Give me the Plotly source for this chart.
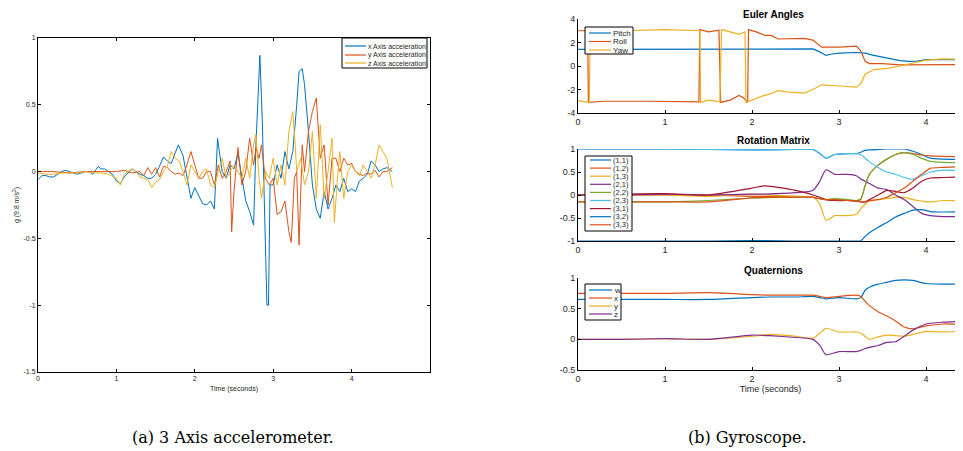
import plotly.graph_objects as go

# ---------------- Accelerometer data ----------------
t_ax = [0,0.05,0.1,0.15,0.2,0.25,0.3,0.35,0.4,0.45,0.5,0.55,0.6,0.65,0.7,0.77,0.8,0.85,0.9,0.95,
        1.0,1.05,1.1,1.15,1.2,1.25,1.3,1.35,1.4,1.45,1.5,1.55,1.6,1.65,1.7,1.75,1.79,1.85,1.9,1.95,
        2.0,2.05,2.1,2.15,2.2,2.25,2.29,2.32,2.35,2.4,2.45,2.5,2.55,2.6,2.65,2.7,2.75,2.78,2.83,2.86,
        2.89,2.92,2.94,2.96,3.0,3.05,3.1,3.15,3.2,3.25,3.3,3.33,3.37,3.4,3.45,3.5,3.55,3.6,3.65,3.7,
        3.75,3.8,3.85,3.9,3.95,4.0,4.05,4.1,4.15,4.2,4.25,4.3,4.35,4.4,4.45,4.52]
acc_x = [-0.06,-0.03,-0.03,-0.04,-0.04,-0.02,0.0,0.01,0.0,-0.01,-0.02,-0.01,0.0,0.0,-0.02,0.04,0.02,0.02,0.0,-0.02,
         -0.07,-0.09,-0.04,-0.01,0.02,0.0,-0.02,-0.03,-0.05,-0.05,-0.02,0.04,0.11,0.08,0.06,0.14,0.2,0.12,-0.05,-0.2,
         -0.12,-0.18,-0.24,-0.25,-0.22,-0.28,0.25,0.12,0.0,-0.05,0.05,0.02,0.14,-0.04,-0.22,-0.3,-0.4,0.2,0.87,0.4,
         -0.25,-1.0,-1.0,-0.1,-0.1,0.05,-0.05,0.15,0.02,0.15,0.5,0.75,0.77,0.65,0.3,-0.1,-0.28,-0.35,-0.15,-0.28,
         -0.2,-0.1,-0.15,-0.05,-0.15,-0.13,-0.15,-0.07,-0.05,-0.02,0.08,0.05,0.0,0.02,0.03,0.0]

t_ay = [0,0.2,0.4,0.6,0.8,1.0,1.1,1.2,1.3,1.35,1.4,1.45,1.5,1.55,1.6,1.65,1.7,1.75,1.8,1.85,
        1.9,1.95,2.0,2.05,2.1,2.15,2.2,2.25,2.3,2.35,2.4,2.45,2.47,2.5,2.55,2.6,2.65,2.7,2.75,2.78,
        2.82,2.85,2.9,2.95,3.0,3.05,3.1,3.15,3.2,3.23,3.27,3.3,3.33,3.37,3.4,3.45,3.5,3.55,3.6,3.65,
        3.7,3.75,3.8,3.85,3.9,3.95,4.0,4.05,4.1,4.15,4.2,4.25,4.3,4.35,4.4,4.45,4.52]
acc_y = [0.0,0.0,-0.01,0.0,0.0, 0.0,0.01,-0.01,0.0,-0.03, 0.03,-0.02,0.03,-0.04,0.04, 0.03,0.0,-0.02,-0.01,-0.03,
         0.05,0.15,0.05,-0.05,-0.05, 0.0,0.0,-0.1,0.05,-0.05, 0.0,0.08,-0.45,-0.15,0.18, -0.1,0.0,0.25,0.05,0.18,
         0.1,0.2,-0.05,-0.1,-0.05, -0.32,-0.3,-0.22,-0.45,-0.53, -0.05,0.0,-0.55,0.2,0.0, 0.3,0.45,0.55,0.1,0.2,
         -0.25,0.1,0.1,0.0,0.1, 0.05,0.06,0.0,-0.02,-0.03, -0.01,-0.02,0.01,-0.04,0.0, 0.0,0.03]

t_az = [0,0.1,0.2,0.3,0.4,0.5,0.6,0.7,0.8,0.9,1.0,1.05,1.1,1.2,1.25,1.3,1.35,1.4,1.45,1.5,
        1.55,1.6,1.65,1.7,1.75,1.8,1.85,1.9,1.95,2.0,2.05,2.1,2.15,2.2,2.25,2.3,2.35,2.4,2.45,2.5,
        2.55,2.6,2.65,2.7,2.75,2.78,2.82,2.85,2.9,2.95,3.0,3.05,3.1,3.15,3.2,3.25,3.28,3.3,3.35,3.4,
        3.45,3.5,3.55,3.6,3.65,3.7,3.75,3.78,3.82,3.85,3.9,3.95,4.0,4.05,4.1,4.15,4.2,4.25,4.3,4.35,
        4.4,4.45,4.52]
acc_z = [-0.01,-0.02,-0.02,-0.01,-0.01,-0.01,0.0,-0.01,-0.01,-0.02, -0.05,-0.1,-0.02,0.02,0.0,
         -0.04,-0.05,-0.06,-0.12,-0.08, -0.06,0.0,0.04,0.15,0.1, 0.08,0.0,-0.1,0.05,0.0,
         -0.05,0.0,0.02,-0.1,-0.12, 0.0,0.1,-0.05,0.0,0.05, 0.0,-0.05,0.1,-0.05,0.2,
         0.28,-0.05,-0.2,0.0,-0.05, 0.1,-0.1,0.05,-0.1,0.3, 0.45,0.2,0.0,0.1,-0.1,
         0.0,0.3,-0.2,0.35,-0.2, 0.0,0.25,-0.38,-0.05,0.15, -0.2,0.0,0.05,0.0,-0.03,
         0.05,0.0,-0.05,0.05,0.2, 0.15,0.1,-0.12]

acc_names = ["x Axis acceleration", "y Axis acceleration", "z Axis acceleration"]

# ---------------- Euler angles ----------------
t_pitch = [0,0.5,1.0,1.5,2.0,2.5,2.7,2.78,2.85,2.9,3.0,3.2,3.3,3.4,3.5,3.6,3.7,3.8,3.9,4.0,4.2,4.5]
pitch = [1.42,1.42,1.43,1.43,1.48,1.48,1.45,1.2,0.9,1.0,1.1,1.15,1.1,0.9,0.75,0.65,0.45,0.4,0.42,0.55,0.57,0.55]
t_roll = [0,0.11,0.12,0.3,0.8,1.2,1.39,1.40,1.5,1.62,1.64,1.75,1.85,1.9,1.95,1.96,2.05,2.15,2.22,2.3,
          2.5,2.6,2.7,2.8,3.0,3.2,3.25,3.3,3.35,3.5,3.7,4.0,4.2,4.5]
roll = [3.0,3.0,-3.1,-3.0,-3.0,-3.05,-3.05,3.1,2.9,3.05,-3.1,-2.9,-2.5,-2.7,-3.1,3.1,2.9,2.6,2.6,2.3,
        2.3,2.35,2.2,1.6,1.6,1.7,1.3,0.4,0.2,0.2,0.1,0.12,0.1,0.12]
t_yaw = [0,0.1,0.13,0.14,0.5,1.0,1.4,1.41,1.5,1.63,1.65,1.75,1.85,1.92,1.93,2.0,2.1,2.2,2.3,2.4,
         2.6,2.7,2.8,3.0,3.2,3.25,3.3,3.4,3.55,3.7,3.9,4.0,4.2,4.5]
yaw = [-2.95,-3.1,-3.1,3.0,3.0,3.1,3.0,-3.1,-2.9,-3.05,3.1,2.9,2.7,2.9,-3.1,-2.9,-2.6,-2.4,-2.1,-2.2,
       -2.3,-2.0,-1.6,-1.7,-1.8,-1.5,-0.7,-0.3,-0.2,0.0,0.3,0.5,0.6,0.55]
euler_names = ["Pitch", "Roll", "Yaw"]

# ---------------- Rotation matrix ----------------
t_rm = [0,0.5,1.0,1.5,2.0,2.15,2.5,2.7,2.78,2.85,2.95,3.1,3.2,3.25,3.3,3.35,3.45,3.55,3.65,3.75,3.85,3.95,4.05,4.2,4.5]
r11 = [1.0,1.0,1.0,0.99,0.98,0.98,0.99,0.99,0.9,0.8,0.88,0.9,0.9,0.93,0.97,0.98,0.99,1.0,1.0,1.0,0.95,0.88,0.8,0.78,0.77]
r12 = [0.0,0.0,0.0,0.0,-0.03,-0.03,-0.03,-0.05,-0.08,-0.1,-0.1,-0.12,-0.13,-0.1,0.2,0.45,0.65,0.78,0.88,0.92,0.9,0.87,0.85,0.84,0.83]
r13 = [0.0,0.0,0.0,-0.03,0.02,0.0,-0.03,-0.05,-0.2,-0.55,-0.45,-0.45,-0.42,-0.3,-0.2,-0.12,-0.1,-0.08,-0.05,-0.05,-0.1,-0.13,-0.15,-0.12,-0.13]
r21 = [0.0,0.0,0.02,0.0,0.02,0.02,0.05,0.1,0.3,0.55,0.45,0.45,0.42,0.35,0.3,0.25,0.15,0.12,0.0,-0.1,-0.25,-0.4,-0.45,-0.47,-0.47]
r22 = [-0.15,-0.15,-0.15,-0.12,-0.07,-0.06,-0.05,-0.05,-0.08,-0.1,-0.08,-0.1,-0.12,-0.08,0.2,0.45,0.65,0.78,0.88,0.92,0.88,0.8,0.73,0.71,0.7]
r23 = [1.0,1.0,1.0,0.99,0.98,0.98,0.99,0.99,0.9,0.8,0.88,0.9,0.9,0.88,0.8,0.72,0.6,0.5,0.45,0.38,0.34,0.42,0.5,0.54,0.52]
r31 = [0.0,0.02,0.03,0.0,0.15,0.2,0.1,0.0,-0.05,-0.1,-0.12,-0.12,-0.13,-0.15,-0.15,-0.1,0.0,0.1,0.08,0.05,0.15,0.3,0.37,0.38,0.4]
r32 = [-1.0,-1.0,-1.0,-1.0,-0.99,-0.99,-1.0,-1.0,-1.0,-1.0,-1.0,-1.0,-1.0,-1.0,-0.9,-0.82,-0.7,-0.6,-0.48,-0.4,-0.33,-0.32,-0.36,-0.37,-0.36]
r33 = [-0.15,-0.15,-0.15,-0.15,-0.06,-0.05,-0.05,-0.05,-0.08,-0.1,-0.1,-0.12,-0.13,-0.15,-0.15,-0.13,-0.1,-0.05,0.05,0.15,0.3,0.45,0.58,0.6,0.62]
rm_names = ["(1,1)","(1,2)","(1,3)","(2,1)","(2,2)","(2,3)","(3,1)","(3,2)","(3,3)"]

# ---------------- Quaternions ----------------
t_q = [0,0.5,1.0,1.5,2.0,2.2,2.5,2.7,2.78,2.85,3.0,3.2,3.25,3.3,3.35,3.45,3.55,3.65,3.75,3.85,4.0,4.2,4.5]
qw = [0.65,0.65,0.65,0.65,0.68,0.69,0.69,0.7,0.68,0.66,0.68,0.66,0.68,0.8,0.85,0.9,0.93,0.96,0.97,0.96,0.91,0.9,0.9]
qx = [0.75,0.75,0.75,0.76,0.73,0.72,0.72,0.72,0.7,0.68,0.7,0.72,0.7,0.62,0.55,0.45,0.38,0.3,0.2,0.17,0.22,0.25,0.24]
qy = [0.0,0.0,0.01,0.0,0.05,0.08,0.05,0.02,0.1,0.18,0.12,0.12,0.1,0.05,0.0,0.04,0.07,0.06,0.05,0.08,0.13,0.12,0.14]
qz = [0.0,0.0,0.01,0.0,0.07,0.06,0.03,0.0,-0.1,-0.25,-0.2,-0.2,-0.18,-0.15,-0.13,-0.1,-0.05,-0.04,0.05,0.15,0.25,0.28,0.3]
q_names = ["w","x","y","z"]

C = ["#0072BD", "#D95319", "#EDB120", "#7E2F8E", "#77AC30", "#4DBEEE", "#A2142F"]
rm_colors = [C[0], C[1], C[2], C[3], C[4], C[5], C[6], C[0], C[1]]

# page body has an 8px margin: the figure is drawn from (8, 8) of the window
OFF = 8
W, H = 963 - OFF, 451 - OFF
def px(x): return (x - OFF) / W
def py(y): return 1 - (y - OFF) / H

fig = go.Figure()

for t, v, nm, col in zip([t_ax, t_ay, t_az], [acc_x, acc_y, acc_z], acc_names, C[:3]):
    fig.add_trace(go.Scatter(x=t, y=v, name=nm, mode="lines", line=dict(color=col, width=1),
                             xaxis="x", yaxis="y"))

for t, v, nm, col in zip([t_pitch, t_roll, t_yaw], [pitch, roll, yaw], euler_names, C[:3]):
    fig.add_trace(go.Scatter(x=t, y=v, name=nm, mode="lines", line=dict(color=col, width=1.2),
                             xaxis="x2", yaxis="y2"))

for v, nm, col in zip([r11, r12, r13, r21, r22, r23, r31, r32, r33], rm_names, rm_colors):
    fig.add_trace(go.Scatter(x=t_rm, y=v, name=nm, mode="lines",
                             line=dict(color=col, width=1.2, shape="spline", smoothing=0.6),
                             xaxis="x3", yaxis="y3"))

for v, nm, col in zip([qw, qx, qy, qz], q_names, [C[0], C[1], C[2], C[3]]):
    fig.add_trace(go.Scatter(x=t_q, y=v, name=nm, mode="lines",
                             line=dict(color=col, width=1.2, shape="spline", smoothing=0.6),
                             xaxis="x4", yaxis="y4"))

FONT = "Liberation Sans, Arial, sans-serif"
base_ax = dict(showgrid=False, zeroline=False, showline=True, linecolor="black", linewidth=1,
               ticks="inside", ticklen=3, tickcolor="black", automargin=False,
               tickfont=dict(family=FONT, color="#262626"))

right_dom = [px(578), 1.0]
xr = [0, (963 - 578) / 87.0]
ticks04 = dict(tickvals=[0,1,2,3,4], ticktext=["0","1","2","3","4"])

fig.update_layout(
    width=W, height=H, margin=dict(l=0, r=0, t=0, b=0, autoexpand=False),
    paper_bgcolor="white", plot_bgcolor="white", showlegend=False,
    font=dict(family=FONT, color="#262626"),
    xaxis=dict(base_ax, domain=[px(38), px(430)], range=[0, 5], anchor="y", mirror="ticks",
               tickfont=dict(size=7, family=FONT), **ticks04,
               title=dict(text="Time (seconds)", font=dict(size=7, family=FONT), standoff=4)),
    yaxis=dict(base_ax, domain=[py(372), py(38)], range=[-1.5, 1], anchor="x", mirror="ticks",
               tickvals=[-1.5,-1,-0.5,0,0.5,1], ticktext=["-1.5","-1","-0.5","0","0.5","1"],
               tickfont=dict(size=7, family=FONT),
               title=dict(text="g (9.8 m/s<sup>2</sup>)", font=dict(size=7, family=FONT), standoff=3)),
    xaxis2=dict(base_ax, domain=right_dom, range=xr, anchor="y2", tickfont=dict(size=9, family=FONT), **ticks04),
    yaxis2=dict(base_ax, domain=[py(113), py(19)], range=[-4, 4], anchor="x2",
                tickvals=[-4,-2,0,2,4], ticktext=["-4","-2","0","2","4"], tickfont=dict(size=9, family=FONT)),
    xaxis3=dict(base_ax, domain=right_dom, range=xr, anchor="y3", tickfont=dict(size=9, family=FONT), **ticks04),
    yaxis3=dict(base_ax, domain=[py(241), py(149)], range=[-1, 1], anchor="x3",
                tickvals=[-1,-0.5,0,0.5,1], ticktext=["-1","-0.5","0","0.5","1"], tickfont=dict(size=9, family=FONT)),
    xaxis4=dict(base_ax, domain=right_dom, range=xr, anchor="y4", tickfont=dict(size=9, family=FONT), **ticks04,
                title=dict(text="Time (seconds)", font=dict(size=9, family=FONT), standoff=2)),
    yaxis4=dict(base_ax, domain=[py(370), py(278)], range=[-0.5, 1], anchor="x4",
                tickvals=[-0.5,0,0.5,1], ticktext=["-0.5","0","0.5","1"], tickfont=dict(size=9, family=FONT)),
)

# ---- manual legends (box, sample line, label) in window-pixel space ----
def add_legend(x0, y0, x1, y1, row_y, names, colors, lx0, lx1, tx, fsize):
    fig.add_shape(type="rect", xref="paper", yref="paper", x0=px(x0), y0=py(y0), x1=px(x1), y1=py(y1),
                  line=dict(color="black", width=1), fillcolor="white", layer="above")
    for yy, nm, col in zip(row_y, names, colors):
        fig.add_shape(type="line", xref="paper", yref="paper", x0=px(lx0), x1=px(lx1), y0=py(yy), y1=py(yy),
                      line=dict(color=col, width=1.2), layer="above")
        fig.add_annotation(text=nm, x=px(tx), y=py(yy), xref="paper", yref="paper", xanchor="left",
                           yanchor="middle", showarrow=False, borderpad=0,
                           font=dict(size=fsize, family=FONT, color="#262626"))

add_legend(342, 38, 427, 68, [46, 55, 63], acc_names, C[:3], 345, 366, 367, 7)
add_legend(585, 27, 633, 54, [33, 41.5, 50], euler_names, C[:3], 589, 611, 612, 8)
add_legend(585, 156, 632, 231, [160 + 8.1 * i for i in range(9)], rm_names, rm_colors, 590, 611, 612, 7.5)
add_legend(585, 284, 621, 320, [290 + 8 * i for i in range(4)], q_names, C[:4], 589, 612, 613, 8)

titles = [("Euler Angles", 14), ("Rotation Matrix", 140), ("Quaternions", 270)]
for txt, y in titles:
    fig.add_annotation(text="<b>" + txt + "</b>", x=px(773), y=py(y), xref="paper", yref="paper",
                       xanchor="center", yanchor="middle", showarrow=False,
                       font=dict(size=10, family=FONT, color="black"))

captions = [("(a) 3 Axis accelerometer.", 233), ("(b) Gyroscope.", 747)]
for txt, x in captions:
    fig.add_annotation(text=txt, x=px(x), y=py(437), xref="paper", yref="paper", showarrow=False,
                       xanchor="center", yanchor="middle",
                       font=dict(size=16, family="DejaVu Serif, serif", color="black"))

fig.write_html("out.html")
